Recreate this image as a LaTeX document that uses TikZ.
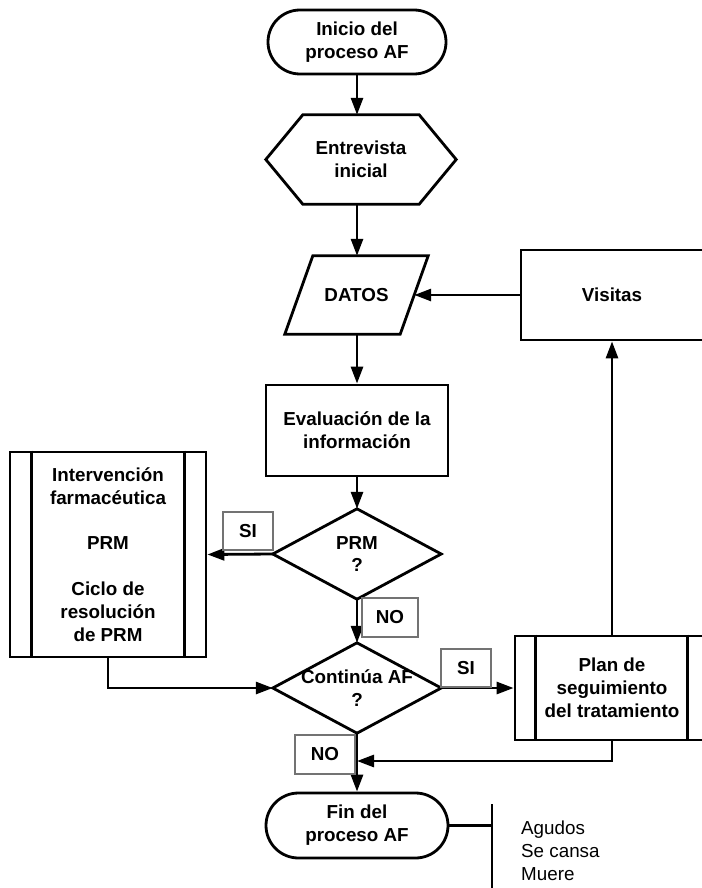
\documentclass[tikz,border=0pt]{standalone}
\usepackage{fontspec}
\setmainfont{Liberation Sans}
\usetikzlibrary{shapes.misc,arrows.meta,calc}

\begin{document}
\begin{tikzpicture}[x=1pt,y=-1pt,
  every node/.style={font=\fontsize{18.8}{22.8}\selectfont\bfseries,
    align=center, inner sep=0pt},
  frame/.style={line width=2.8pt, line join=miter},
  flow/.style={line width=2.8pt, -{Triangle[length=17pt,width=12pt]}},
  terminal/.style={draw, line width=2.8pt, rounded rectangle},
  plainbox/.style={draw, line width=2.8pt, rectangle},
  shell/.style={rectangle},
  answer/.style={draw=black!55, line width=1.2pt, rectangle,
    minimum width=50pt, minimum height=38pt, fill=white},
]
\useasboundingbox (0,0) rectangle (701,888);

% ---- main column ----
\node[terminal, minimum width=178pt, minimum height=64pt] (start) at (357,42)
  {Inicio del\\proceso AF};

\node[shell, minimum width=190pt, minimum height=89pt] (hex) at (361,159.5)
  {Entrevista\\inicial};
\draw[frame] (hex.west) -- ($(hex.north west)+(37,0)$)
  -- ($(hex.north east)+(-37,0)$) -- (hex.east)
  -- ($(hex.south east)+(-37,0)$) -- ($(hex.south west)+(37,0)$) -- cycle;

\node[shell, minimum width=143pt, minimum height=78pt] (datos) at (356.5,295)
  {DATOS};
\draw[frame] ($(datos.south west)$) -- ($(datos.north west)+(28,0)$)
  -- (datos.north east) -- ($(datos.south east)+(-28,0)$) -- cycle;
\coordinate (datosin) at ($(datos.east)+(-14,0)$);

\node[plainbox, minimum width=182pt, minimum height=91pt] (eval) at (357,430.5)
  {Evaluación de la\\información};

\node[shell, minimum width=168pt, minimum height=90pt] (d1) at (357,554)
  {PRM\\?};
\draw[frame] (d1.north) -- (d1.east) -- (d1.south) -- (d1.west) -- cycle;

\node[shell, minimum width=168pt, minimum height=90pt] (d2) at (357,688)
  {Continúa AF\\?};
\draw[frame] (d2.north) -- (d2.east) -- (d2.south) -- (d2.west) -- cycle;

\node[terminal, minimum width=182pt, minimum height=65pt] (fin) at (357,825.5)
  {Fin del\\proceso AF};

% ---- side boxes ----
\node[plainbox, minimum width=182pt, minimum height=90pt] (visitas) at (612,295)
  {Visitas};

\node[plainbox, minimum width=196pt, minimum height=205pt] (lb) at (108,554.5)
  {Intervención\\farmacéutica\\[22.8pt]PRM\\[22.8pt]Ciclo de\\resolución\\de PRM};
\draw[frame] ($(lb.north west)+(23,0)$) -- ($(lb.south west)+(23,0)$);
\draw[frame] ($(lb.north east)+(-23,0)$) -- ($(lb.south east)+(-23,0)$);

\node[plainbox, minimum width=194pt, minimum height=104pt] (plan) at (612,688)
  {Plan de\\seguimiento\\del tratamiento};
\draw[frame] ($(plan.north west)+(22,0)$) -- ($(plan.south west)+(22,0)$);
\draw[frame] ($(plan.north east)+(-23,0)$) -- ($(plan.south east)+(-23,0)$);

% ---- connectors ----
\draw[flow] (start.south) -- (start.south |- hex.north);
\draw[flow] (start.south |- hex.south) -- (start.south |- datos.north);
\draw[flow] (visitas.west) -- (visitas.west -| datosin);
\draw[flow] (eval.north |- datos.south) -- (eval.north);
\draw[flow] (eval.south) -- (d1.north);
\draw[flow] (d1.west) -- (lb.east);
\draw[flow] (d1.south) -- (d2.north);
\draw[flow] (lb.south) |- (d2.west);
\draw[flow] (d2.east) -- (plan.west);
\draw[flow] (plan.north) -- (visitas.south);
\coordinate (merge) at (357,761);
\draw[flow] (plan.south) |- (merge);
\draw[flow] (d2.south) -- (fin.north);

% ---- answer tags ----
\node[answer] (si1) at (248,531) {SI};
\node[answer, minimum width=56pt, minimum height=39pt] (no1) at (390,617.5) {NO};
\node[answer] (si2) at (466,668) {SI};
\node[answer, minimum width=60pt, minimum height=39pt] (no2) at (325,754.5) {NO};

% ---- annotation bracket ----
\coordinate (bartop) at (492,804);
\coordinate (barbot) at (492,892);
\draw[frame] (fin.east) -- (fin.east -| bartop);
\draw[frame] (bartop) -- (barbot);
\node[font=\fontsize{18.8}{23.2}\selectfont, anchor=west, align=left] (notes)
  at (521,851) {Agudos\\Se cansa\\Muere};
\end{tikzpicture}
\end{document}
